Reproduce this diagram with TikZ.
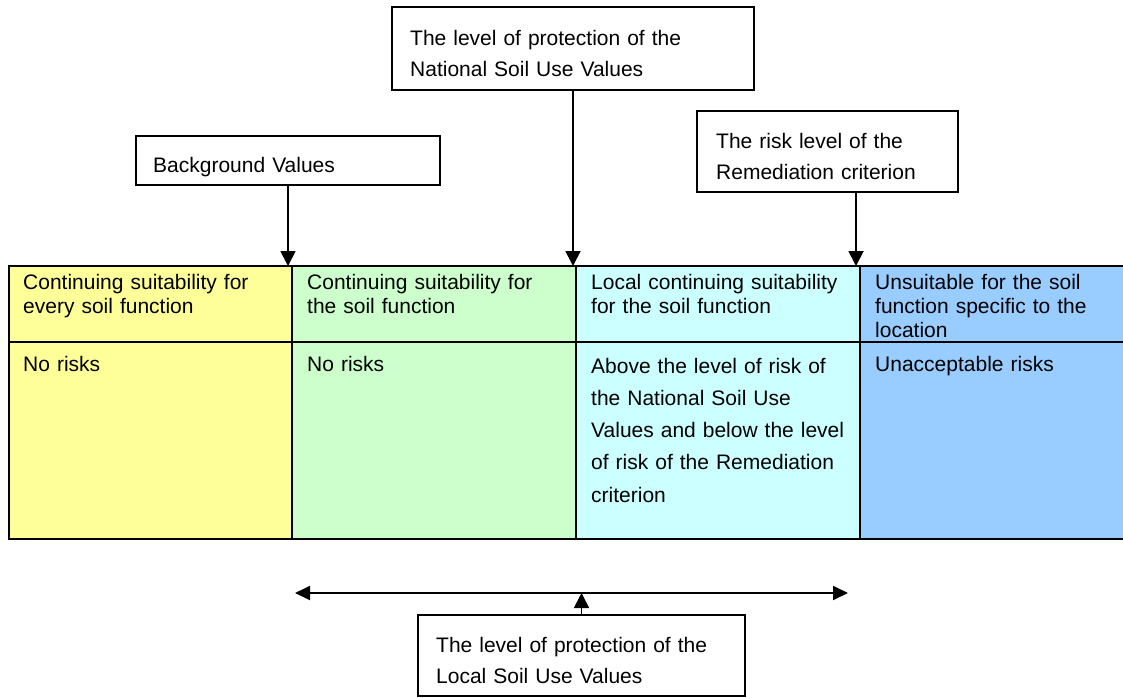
\documentclass[tikz,border=0pt]{standalone}
\usepackage{fontspec}
\setmainfont{Liberation Sans}
\usetikzlibrary{arrows.meta}

\definecolor{cellyellow}{HTML}{FFFF99}
\definecolor{cellgreen}{HTML}{CCFFCC}
\definecolor{cellcyan}{HTML}{CCFFFF}
\definecolor{cellblue}{HTML}{99CCFF}

\begin{document}
\begin{tikzpicture}[
  x=1pt, y=-1pt,
  frame/.style={draw=black, line width=1.8pt},
  cell/.style={frame, anchor=north west, inner sep=0pt, outer sep=0pt},
  labelbox/.style={frame, fill=white, anchor=north west, inner sep=0pt, outer sep=0pt},
  headtxt/.style={anchor=base west, inner sep=0pt, align=left, text width=275pt,
    font=\fontsize{21}{24}\selectfont},
  bodytxt/.style={anchor=base west, inner sep=0pt, align=left, text width=275pt,
    font=\fontsize{21}{32.3}\selectfont},
  boxtxt/.style={anchor=base west, inner sep=0pt, align=left, text width=340pt,
    font=\fontsize{21}{31}\selectfont},
  arr/.style={line width=1.8pt, -{Triangle[length=15pt, width=15pt]}},
  darr/.style={line width=1.8pt, {Triangle[length=15pt, width=14pt]}-{Triangle[length=15pt, width=14pt]}}
]
\useasboundingbox[fill=white] (0,0) rectangle (1123,697);

% ---- table: header row ----
\node[cell, fill=cellyellow, minimum width=283pt, minimum height=76pt] (h1) at (9,266) {};
\node[cell, fill=cellgreen,  minimum width=284pt, minimum height=76pt] (h2) at (292,266) {};
\node[cell, fill=cellcyan,   minimum width=284pt, minimum height=76pt] (h3) at (576,266) {};
\node[cell, fill=cellblue,   minimum width=266pt, minimum height=76pt] (h4) at (860,266) {};
% ---- table: body row ----
\node[cell, fill=cellyellow, minimum width=283pt, minimum height=197pt] (b1) at (9,342) {};
\node[cell, fill=cellgreen,  minimum width=284pt, minimum height=197pt] (b2) at (292,342) {};
\node[cell, fill=cellcyan,   minimum width=284pt, minimum height=197pt] (b3) at (576,342) {};
\node[cell, fill=cellblue,   minimum width=266pt, minimum height=197pt] (b4) at (860,342) {};

% ---- cell texts ----
\node[headtxt] (t1) at (23,289) {Continuing suitability for\\every soil function};
\node[headtxt] (t2) at (307,289) {Continuing suitability for\\the soil function};
\node[headtxt] (t3) at (591,289) {Local continuing suitability\\for the soil function};
\node[headtxt] (t4) at (875,289) {Unsuitable for the soil\\function specific to the\\location};

\node[bodytxt] (u1) at (23,371) {No risks};
\node[bodytxt] (u2) at (307,371) {No risks};
\node[bodytxt] (u3) at (591,373) {Above the level of risk of\\the National Soil Use\\Values and below the level\\of risk of the Remediation\\criterion};
\node[bodytxt] (u4) at (875,371) {Unacceptable risks};

% ---- label boxes above the table ----
\node[labelbox, minimum width=362pt, minimum height=83pt] (nat) at (392,7) {};
\node[boxtxt] (natT) at (410,45) {The level of protection of the\\National Soil Use Values};

\node[labelbox, minimum width=304pt, minimum height=49pt] (bg) at (136,136) {};
\node[boxtxt] (bgT) at (153,172) {Background Values};

\node[labelbox, minimum width=261pt, minimum height=81pt] (risk) at (697,111) {};
\node[boxtxt] (riskT) at (716,148) {The risk level of the\\Remediation criterion};

% ---- label box below the table ----
\node[labelbox, minimum width=327pt, minimum height=81pt] (loc) at (418,615) {};
\node[boxtxt] (locT) at (436,652) {The level of protection of the\\Local Soil Use Values};

% ---- pointers onto the table ----
\draw[arr] (bg.south) -- (bg.south |- h1.north);
\draw[arr] (nat.south) -- (nat.south |- h2.north);
\coordinate (riskTip) at ([xshift=-4pt]h4.north west);
\draw[arr] (riskTip |- risk.south) -- (riskTip);

% ---- range of the local values ----
\coordinate (rangeL) at (295,593);
\coordinate (rangeR) at (848,593);
\draw[darr] (rangeL) -- (rangeR);
\draw[arr] (loc.north) -- (loc.north |- rangeL);
\end{tikzpicture}
\end{document}
